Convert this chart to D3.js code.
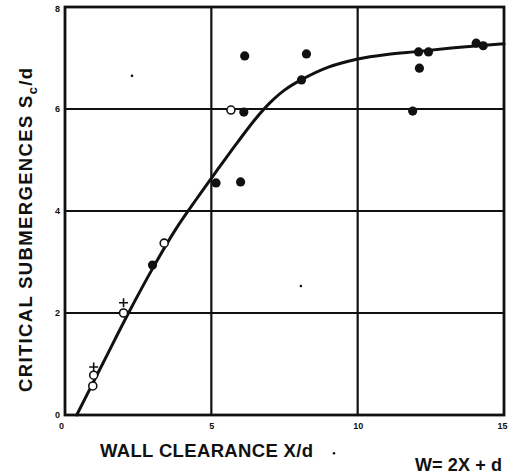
<!DOCTYPE html>
<html>
<head>
<meta charset="utf-8">
<script src="https://cdn.jsdelivr.net/npm/d3@7"></script>
<style>
  html, body { margin: 0; padding: 0; background: #fff; }
  svg { display: block; }
  text { font-family: "Liberation Sans", Arial, Helvetica, sans-serif; font-weight: bold; fill: #111; }
</style>
</head>
<body>
<svg id="chart" width="508" height="476"></svg>
<script>
// ---- data ----
const xTicks = [0, 5, 10, 15];
const yTicks = [0, 2, 4, 6, 8];
const xGrid = [5, 10];
const yGrid = [2, 4, 6];

// open circles
const openX = [0.95, 0.98, 2.0, 3.39, 5.67];
const openY = [0.57, 0.78, 2.0, 3.37, 5.98];

// filled circles
const filledX = [2.99, 5.16, 6.0, 6.11, 6.14, 8.25, 8.08, 12.08, 12.42, 12.11, 11.88, 14.05, 14.29];
const filledY = [2.94, 4.55, 4.57, 5.94, 7.04, 7.08, 6.57, 7.12, 7.12, 6.80, 5.96, 7.29, 7.24];

// plus markers
const plusX = [0.98, 2.0];
const plusY = [0.94, 2.2];

// fitted curve
const curveX = [0.4, 1.3, 2.17, 3.0, 3.77, 4.5, 5.2, 5.9, 6.5, 7.0, 7.5, 8.1, 9.0, 10.0, 11.0, 12.1, 13.5, 15.0];
const curveY = [0.0, 1.02, 2.0, 2.88, 3.63, 4.24, 4.8, 5.35, 5.8, 6.12, 6.37, 6.58, 6.82, 6.98, 7.07, 7.13, 7.21, 7.28];

// scan specks
const speckX = [2.29, 8.06, 9.19];
const speckY = [6.65, 2.53, -0.75];

const xLabel = "WALL CLEARANCE X/d";
const yLabelMain = "CRITICAL SUBMERGENCES S";
const yLabelSub = "c";
const yLabelEnd = "/d";
const noteLabel = "W= 2X + d";

// ---- layout ----
const svg = d3.select("#chart");
const x = d3.scaleLinear().domain([0, 15]).range([65, 504]);
const y = d3.scaleLinear().domain([0, 8]).range([415, 7]);

const ink = "#111";

// grid
svg.append("g").selectAll("line").data(yGrid).join("line")
  .attr("x1", x(0)).attr("x2", x(15))
  .attr("y1", d => y(d)).attr("y2", d => y(d))
  .attr("stroke", ink).attr("stroke-width", 2.2);
svg.append("g").selectAll("line").data(xGrid).join("line")
  .attr("x1", d => x(d)).attr("x2", d => x(d))
  .attr("y1", y(0)).attr("y2", y(8))
  .attr("stroke", ink).attr("stroke-width", 2.2);

// frame
svg.append("rect")
  .attr("x", x(0)).attr("y", y(8))
  .attr("width", x(15) - x(0)).attr("height", y(0) - y(8))
  .attr("fill", "none").attr("stroke", ink).attr("stroke-width", 2.8);

// axes tick labels (via d3 axes, domain/ticks hidden)
const xAxis = d3.axisBottom(x).tickValues(xTicks).tickSize(0).tickPadding(8).tickFormat(d3.format("d"));
const gx = svg.append("g").attr("transform", `translate(0,${y(0)})`).call(xAxis);
gx.select(".domain").remove();
gx.selectAll("text").attr("font-size", 9).attr("font-weight", "bold")
  .attr("font-family", "Liberation Sans, Arial, sans-serif").attr("fill", ink);
gx.selectAll(".tick").filter(d => d === 15).select("text")
  .attr("text-anchor", "end").attr("dx", 3);
gx.selectAll(".tick").filter(d => d === 0).select("text").attr("dx", -4);

const yAxis = d3.axisLeft(y).tickValues(yTicks).tickSize(0).tickPadding(5).tickFormat(d3.format("d"));
const gy = svg.append("g").attr("transform", `translate(${x(0)},0)`).call(yAxis);
gy.select(".domain").remove();
gy.selectAll("text").attr("font-size", 9).attr("font-weight", "bold")
  .attr("font-family", "Liberation Sans, Arial, sans-serif").attr("fill", ink);
gy.selectAll(".tick").filter(d => d === 8).select("text").attr("dy", "0.55em");

// curve
const curvePts = curveX.map((v, i) => [v, curveY[i]]);
const line = d3.line().x(d => x(d[0])).y(d => y(d[1])).curve(d3.curveCatmullRom.alpha(0.5));
svg.append("path").datum(curvePts)
  .attr("d", line).attr("fill", "none").attr("stroke", ink)
  .attr("stroke-width", 3).attr("stroke-linecap", "round");

// filled circles
svg.append("g").selectAll("circle").data(filledX.map((v, i) => [v, filledY[i]])).join("circle")
  .attr("cx", d => x(d[0])).attr("cy", d => y(d[1])).attr("r", 4.6).attr("fill", ink);

// open circles
svg.append("g").selectAll("circle").data(openX.map((v, i) => [v, openY[i]])).join("circle")
  .attr("cx", d => x(d[0])).attr("cy", d => y(d[1])).attr("r", 4)
  .attr("fill", "#fff").attr("stroke", ink).attr("stroke-width", 1.6);

// plus markers
svg.append("g").selectAll("path").data(plusX.map((v, i) => [v, plusY[i]])).join("path")
  .attr("d", d => {
    const cx = x(d[0]), cy = y(d[1]), s = 4.5;
    return `M${cx - s},${cy}H${cx + s}M${cx},${cy - s}V${cy + s}`;
  })
  .attr("stroke", ink).attr("stroke-width", 1.6).attr("fill", "none");

// specks
svg.append("g").selectAll("circle").data(speckX.map((v, i) => [v, speckY[i]])).join("circle")
  .attr("cx", d => x(d[0])).attr("cy", d => y(d[1])).attr("r", 1.3).attr("fill", ink);

// x label
const xl = svg.append("text").attr("x", 100).attr("y", 457)
  .attr("font-size", 18.5).text(xLabel);
fitWidth(xl, 213);

// note label
const nl = svg.append("text").attr("x", 415).attr("y", 471)
  .attr("font-size", 18).text(noteLabel);
fitWidth(nl, 87);

// y label
const yl = svg.append("text")
  .attr("transform", "translate(32,392) rotate(-90)")
  .attr("x", 0).attr("y", 0).attr("font-size", 18.5);
yl.append("tspan").text(yLabelMain);
yl.append("tspan").attr("font-size", 13).attr("dy", 5).text(yLabelSub);
yl.append("tspan").attr("dy", -5).text(yLabelEnd);
fitWidth(yl, 324);

function fitWidth(sel, target) {
  const node = sel.node();
  const w = node.getBBox().width;
  const n = (sel.text() || "").length;
  if (w > 0 && n > 1) {
    const ls = (target - w) / (n - 1);
    sel.attr("letter-spacing", ls.toFixed(2));
  }
}
</script>
</body>
</html>
